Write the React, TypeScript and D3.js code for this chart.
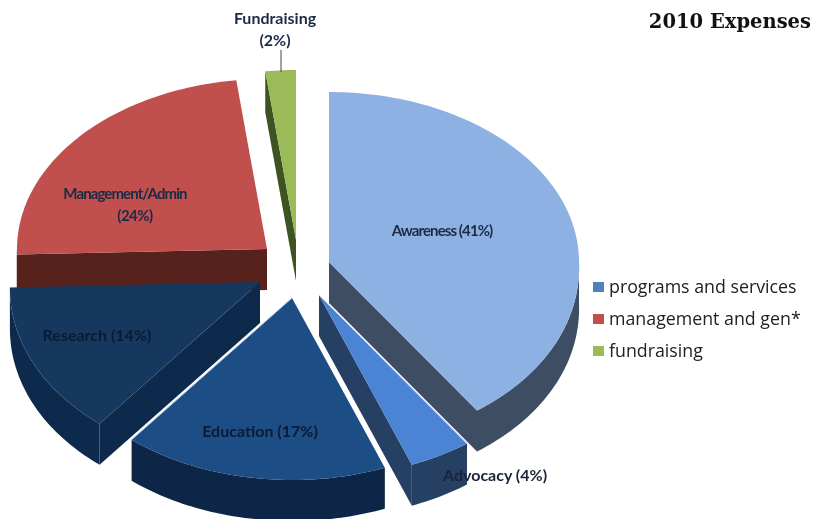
import * as d3 from 'd3';

const categories = ['Awareness', 'Advocacy', 'Education', 'Research', 'Management/Admin', 'Fundraising'];
// the printed shares add up to 102, the slices are drawn from them as they are
const shares = [41, 4, 17, 14, 24, 2];
const faceColors = ['#8eb1e3', '#4b84d4', '#1f4d85', '#16375f', '#c0504d', '#9bbb59'];
const wallColors = ['#3e4e64', '#263f64', '#0e2646', '#112b4e', '#58211f', '#3d5220'];
// where the tip of each exploded slice ends up
const tips: [number, number][] = [[329, 262], [319, 295], [292, 298], [260, 282], [267, 249], [296, 240]];
const drawOrder = [5, 4, 3, 0, 1, 2];

const legendLabels = ['programs and services', 'management and gen*', 'fundraising'];
const legendColors = ['#4f81bd', '#c0504d', '#9bbb59'];

const WIDTH = 813;
const HEIGHT = 519;
const RX = 250;
const RY_BACK = 170;
const RY_FRONT = 182;
const FRONT_WIDEN = 0.03;
const DEPTH = 41;
const FONT = 'Lato, "Noto Sans", sans-serif';

type Pt = [number, number];

// pie angle -> offset from the slice tip on the tilted disc
const project = (a: number): Pt => {
  const c = Math.cos(a);
  return [RX * Math.sin(a) * (1 + FRONT_WIDEN * Math.max(0, -c)), -c * (c > 0 ? RY_BACK : RY_FRONT)];
};

const line = d3.line<Pt>();
const angleSteps = (a0: number, a1: number) => {
  const n = Math.max(2, Math.ceil((a1 - a0) / 0.02));
  return d3.range(n + 1).map((i) => a0 + ((a1 - a0) * i) / n);
};

const down = (p: Pt): Pt => [p[0], p[1] + DEPTH];

const App = () => {
  const arcs = d3.pie<number>().sort(null).startAngle(0).endAngle(2 * Math.PI)(shares);

  const legendY = d3.scalePoint<string>().domain(legendLabels).range([287, 351]);

  return (
    <svg width={WIDTH} height={HEIGHT} style={{ position: 'absolute', left: 0, top: 0 }}>
      <defs>
        <filter id="soft" x="-5%" y="-5%" width="110%" height="110%">
          <feGaussianBlur stdDeviation="0.5" />
        </filter>
      </defs>
      <rect width={WIDTH} height={HEIGHT} fill="#fff" />
      <g filter="url(#soft)">
        {drawOrder.map((i) => {
          const { startAngle: a0, endAngle: a1 } = arcs[i];
          const rim = angleSteps(a0, a1).map(project);
          const tip: Pt = [0, 0];
          // front part of the rim only
          const rimFrom = Math.max(a0, Math.PI / 2);
          const rimTo = Math.min(a1, (3 * Math.PI) / 2);
          const rimTop = rimFrom < rimTo ? angleSteps(rimFrom, rimTo).map(project) : [];
          const startVisible = Math.sin(a0) < -1e-6;
          const endVisible = Math.sin(a1) > 1e-6;
          const edge = startVisible ? project(a0) : endVisible ? project(a1) : null;
          return (
            <g key={categories[i]} transform={`translate(${tips[i][0]},${tips[i][1]})`}>
              {rimTop.length > 0 && (
                <path d={line([...rimTop, ...rimTop.slice().reverse().map(down)]) + 'Z'} fill={wallColors[i]} />
              )}
              {edge && <path d={line([tip, edge, down(edge), down(tip)]) + 'Z'} fill={wallColors[i]} />}
              <path d={line([tip, ...rim]) + 'Z'} fill={faceColors[i]} />
              {/* thin highlight on the two edges that catch the light */}
              {i === 2 && <path d={line([tip, project(a1)]) ?? ''} stroke="#a9c4e6" strokeWidth={1} fill="none" />}
              {i === 1 && <path d={line([tip, project(a0)]) ?? ''} stroke="#c9d9ef" strokeWidth={1} fill="none" />}
            </g>
          );
        })}
      </g>

      <line x1={281} y1={50} x2={281} y2={72} stroke="#444" strokeWidth={1} />

      <g fontFamily={FONT} fontWeight={700} fill="#1c2b45" textAnchor="middle">
        <text x={275} y={24} fontSize={16}>Fundraising</text>
        <text x={275} y={46} fontSize={16}>(2%)</text>
        <text x={125} y={199} fontSize={15} letterSpacing={-0.9}>Management/Admin</text>
        <text x={135} y={221} fontSize={15} letterSpacing={-0.5}>(24%)</text>
        <text x={442} y={236} fontSize={15} letterSpacing={-0.9}>Awareness (41%)</text>
        <text x={97} y={341} fontSize={16} fill="#0d1a33">Research (14%)</text>
        <text x={260} y={437} fontSize={16} fill="#0d1a33">Education (17%)</text>
        <text x={495} y={481} fontSize={16} fill="#1a2338">Advocacy (4%)</text>
      </g>

      <text x={811} y={28} textAnchor="end" fontFamily='"DejaVu Serif", serif' fontWeight={700} fontSize={19.5} fill="#111">
        2010 Expenses
      </text>

      {legendLabels.map((label, i) => (
        <g key={label} transform={`translate(593,${legendY(label)})`}>
          <rect y={-5} width={11} height={10} fill={legendColors[i]} />
          <text x={16} y={6} fontFamily='"Open Sans", sans-serif' fontSize={17.8} fill="#222">{label}</text>
        </g>
      ))}
    </svg>
  );
};

export default App;
